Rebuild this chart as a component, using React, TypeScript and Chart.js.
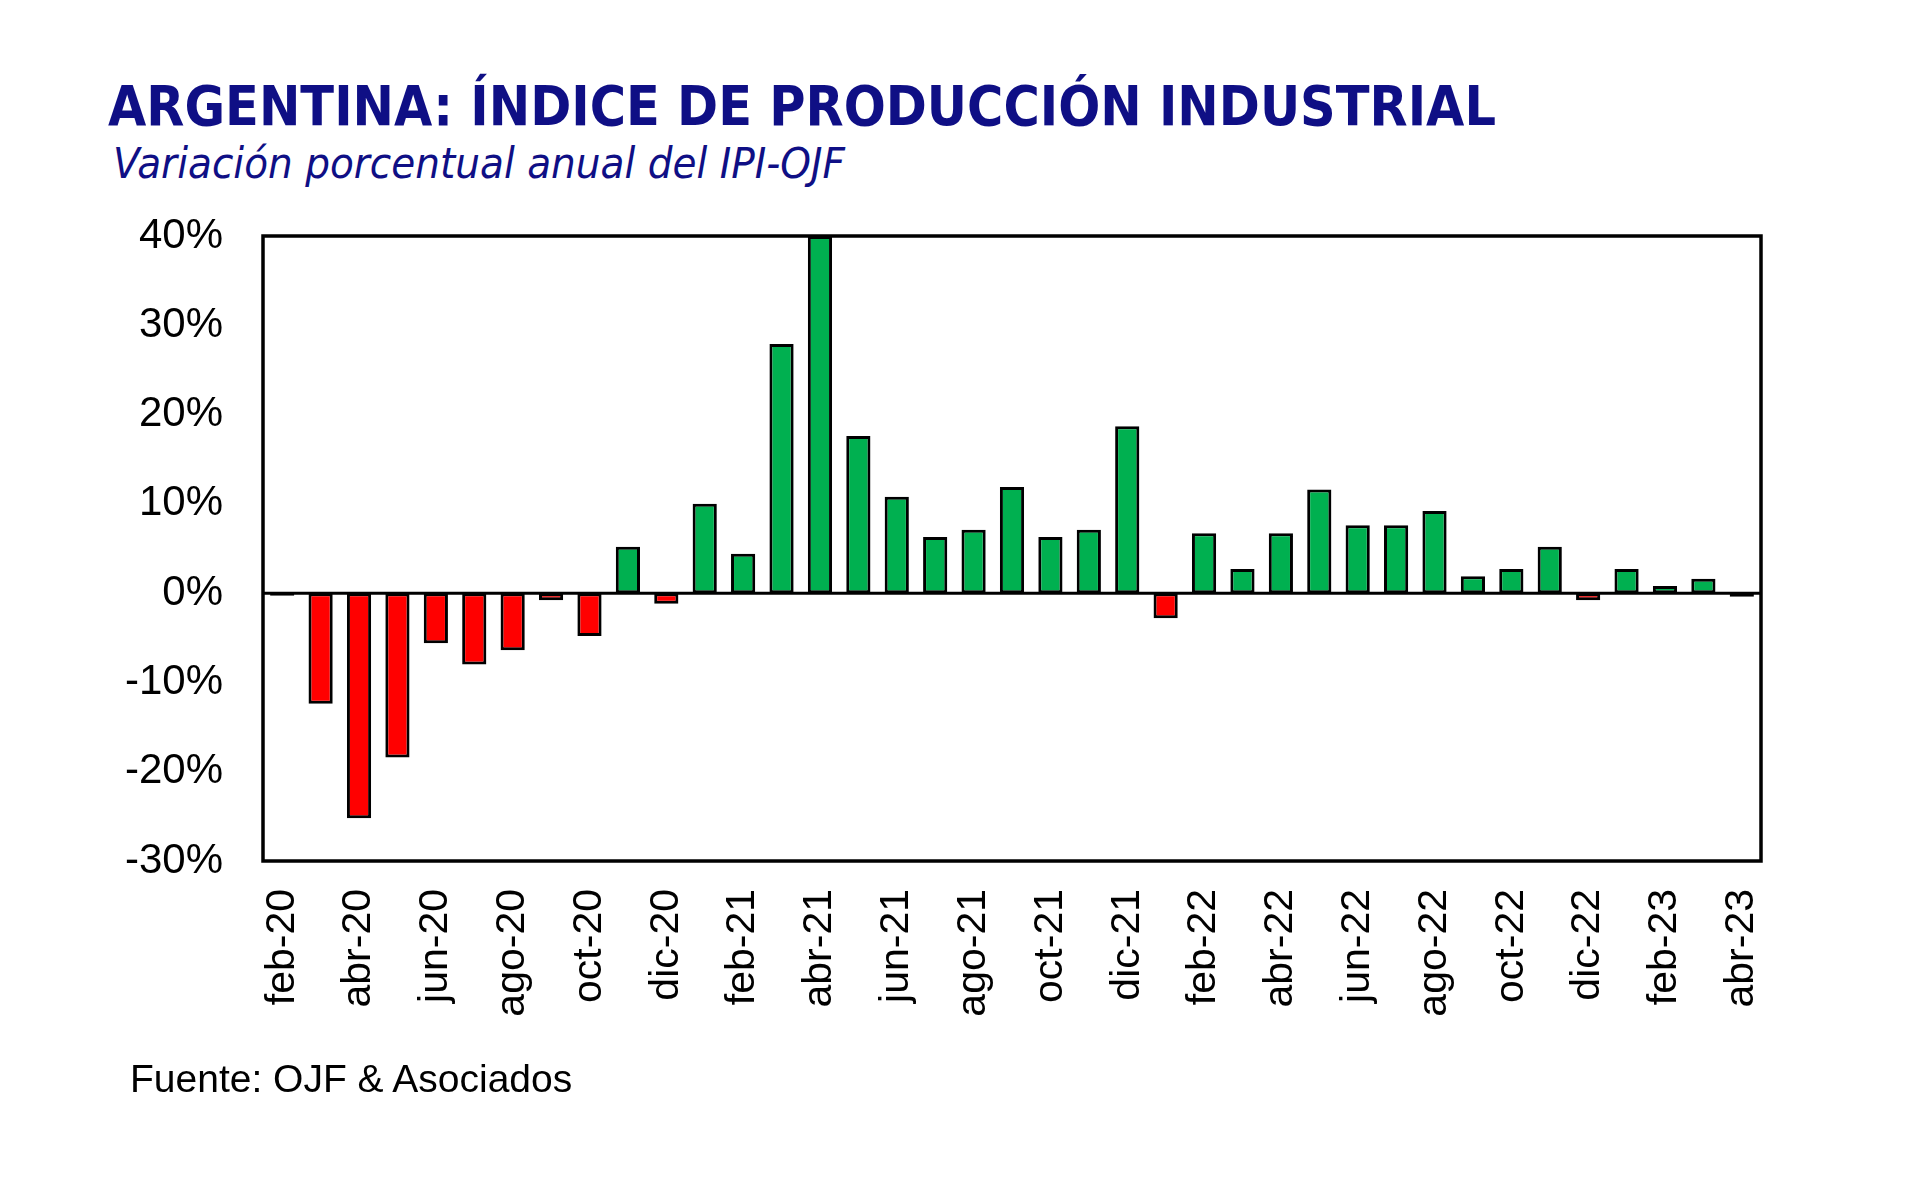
import React, { useEffect, useLayoutEffect, useRef, useState } from "react";
import { Chart, registerables } from "chart.js";

Chart.register(...registerables);

const months = [
  "feb-20", "mar-20", "abr-20", "may-20", "jun-20", "jul-20", "ago-20", "sep-20", "oct-20", "nov-20", "dic-20",
  "ene-21", "feb-21", "mar-21", "abr-21", "may-21", "jun-21", "jul-21", "ago-21", "sep-21", "oct-21", "nov-21", "dic-21",
  "ene-22", "feb-22", "mar-22", "abr-22", "may-22", "jun-22", "jul-22", "ago-22", "sep-22", "oct-22", "nov-22", "dic-22",
  "ene-23", "feb-23", "mar-23", "abr-23",
];

const ipiVariation = [
  -0.3, -12.4, -25.2, -18.4, -5.6, -8.0, -6.4, -0.8, -4.8, 5.2, -1.2,
  10.0, 4.4, 27.9, 40.0, 17.6, 10.8, 6.3, 7.1, 11.9, 6.3, 7.1, 18.7,
  -2.8, 6.7, 2.7, 6.7, 11.6, 7.6, 7.6, 9.2, 1.9, 2.7, 5.2, -0.8,
  2.7, 0.8, 1.6, -0.4,
];

const yTicks = [-30, -20, -10, 0, 10, 20, 30, 40];

const TITLE = "ARGENTINA: ÍNDICE DE PRODUCCIÓN INDUSTRIAL";
const SUBTITLE = "Variación porcentual anual del IPI-OJF";
const SOURCE = "Fuente: OJF & Asociados";

const GREEN = "#00B050";
const RED = "#FF0000";
const NAVY = "#0F0F85";

function FitText(props: { text: string; width: number; style: React.CSSProperties }) {
  const ref = useRef<HTMLSpanElement>(null);
  const [sx, setSx] = useState(1);
  useLayoutEffect(() => {
    if (ref.current) {
      const w = ref.current.getBoundingClientRect().width;
      if (w > 0) setSx(props.width / w);
    }
  }, [props.text, props.width]);
  return (
    <div style={{ position: "absolute", ...props.style, transform: `scaleX(${sx})`, transformOrigin: "left top", whiteSpace: "nowrap" }}>
      <span ref={ref}>{props.text}</span>
    </div>
  );
}

const frame = {
  id: "frame",
  afterDatasetsDraw(chart: any) {
    const { ctx, chartArea } = chart;
    const y = chart.scales.y;
    ctx.save();
    ctx.strokeStyle = "#000";
    ctx.lineWidth = 3;
    const z = y.getPixelForValue(0);
    ctx.beginPath();
    ctx.moveTo(chartArea.left, z);
    ctx.lineTo(chartArea.right, z);
    ctx.stroke();
    ctx.lineWidth = 3.5;
    ctx.strokeRect(chartArea.left, chartArea.top, chartArea.right - chartArea.left, chartArea.bottom - chartArea.top);
    ctx.restore();
  },
};

export default function App() {
  const canvasRef = useRef<HTMLCanvasElement>(null);

  useEffect(() => {
    if (!canvasRef.current) return;
    const chart = new Chart(canvasRef.current, {
      type: "bar",
      data: {
        labels: months,
        datasets: [
          {
            data: ipiVariation,
            backgroundColor: ipiVariation.map((v) => (v >= 0 ? GREEN : RED)),
            borderColor: "#000",
            borderWidth: 3,
            borderSkipped: false,
            categoryPercentage: 1,
            barPercentage: 0.63,
          },
        ],
      },
      options: {
        responsive: false,
        animation: false,
        devicePixelRatio: 1,
        layout: { padding: { top: 236, right: 159, left: 0, bottom: 0 } },
        plugins: { legend: { display: false }, tooltip: { enabled: false }, title: { display: false } },
        scales: {
          x: {
            grid: { display: false, drawTicks: false },
            border: { display: false },
            ticks: {
              autoSkip: false,
              maxRotation: 90,
              minRotation: 90,
              padding: 28,
              color: "#000",
              font: { family: "'Liberation Sans', Arial, sans-serif", size: 41 },
              callback: (_v: any, i: number) => (i % 2 === 0 ? months[i] : ""),
            },
            afterFit: (scale: any) => {
              scale.height = 1187 - 861;
            },
          },
          y: {
            min: -30,
            max: 40,
            grid: { display: false, drawTicks: false },
            border: { display: false },
            afterBuildTicks: (scale: any) => {
              scale.ticks = yTicks.map((v) => ({ value: v }));
            },
            ticks: {
              padding: 40,
              color: "#000",
              font: { family: "'Liberation Sans', Arial, sans-serif", size: 42 },
              callback: (v: any) => `${v}%`,
            },
            afterFit: (scale: any) => {
              scale.width = 263;
            },
          },
        },
      },
      plugins: [frame],
    });
    return () => chart.destroy();
  }, []);

  return (
    <div style={{ position: "absolute", left: 0, top: 0, width: 1920, height: 1187, background: "#fff", overflow: "hidden" }}>
      <FitText
        text={TITLE}
        width={1388}
        style={{ left: 108, top: 79, fontFamily: "'DejaVu Sans', Verdana, sans-serif", fontWeight: 700, fontSize: 55, lineHeight: "55px", color: NAVY }}
      />
      <FitText
        text={SUBTITLE}
        width={732}
        style={{ left: 113, top: 143, fontFamily: "'DejaVu Sans', Verdana, sans-serif", fontStyle: "italic", fontSize: 42, lineHeight: "42px", color: NAVY }}
      />
      <canvas ref={canvasRef} width={1920} height={1187} style={{ position: "absolute", left: 0, top: 0, width: 1920, height: 1187 }} />
      <div
        style={{ position: "absolute", left: 130, top: 1059, fontFamily: "'Liberation Sans', Arial, sans-serif", fontSize: 39, lineHeight: "39px", color: "#000", whiteSpace: "nowrap" }}
      >
        {SOURCE}
      </div>
    </div>
  );
}
